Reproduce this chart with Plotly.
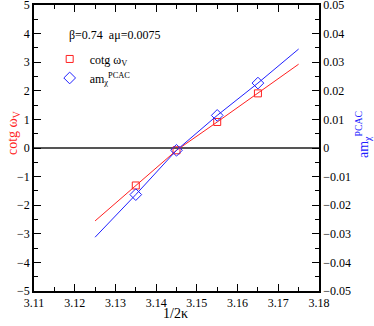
import plotly.graph_objects as go

# measured points
x_pts = [3.135, 3.145, 3.155, 3.165]
cotg_w = [-1.31, -0.08, 0.91, 1.91]
am_pcac = [-0.0163, -0.0008, 0.0114, 0.0227]

# fit curves as drawn (extrapolated to 3.125 / 3.175)
fit_x = [3.125, 3.135, 3.145, 3.155, 3.165, 3.175]
cotg_fit = [-2.55, -1.31, -0.08, 0.91, 1.91, 2.93]
am_fit = [-0.0312, -0.0163, -0.0008, 0.0114, 0.0227, 0.0346]

serif = "Liberation Serif, Times New Roman, serif"
red = "#ff2020"
blue = "#2020ff"

fig = go.Figure()

fig.add_trace(go.Scatter(x=fit_x, y=cotg_fit, mode="lines",
                         line=dict(color=red, width=1), showlegend=False))
fig.add_trace(go.Scatter(x=fit_x, y=am_fit, mode="lines", yaxis="y2",
                         line=dict(color=blue, width=1), showlegend=False))
fig.add_trace(go.Scatter(x=x_pts, y=cotg_w, mode="markers",
                         name="cotg ω<sub>V</sub>",
                         marker=dict(symbol="square-open", size=7, color=red,
                                     line=dict(width=1))))
fig.add_trace(go.Scatter(x=x_pts, y=am_pcac, mode="markers", yaxis="y2",
                         name="am<sub>χ</sub><sup>PCAC</sup>",
                         marker=dict(symbol="diamond-open", size=9, color=blue,
                                     line=dict(width=1))))

tick_common = dict(ticks="inside", ticklen=7, tickcolor="black", tickwidth=1,
                   showline=True, linecolor="black", linewidth=1.5,
                   showgrid=False, automargin=False, ticklabeloverflow="allow")

fig.update_layout(
    width=374, height=326,
    margin=dict(l=34, r=55, t=5, b=35),
    paper_bgcolor="white", plot_bgcolor="white",
    font=dict(family=serif, size=12, color="black"),
    showlegend=True,
    legend=dict(x=0.055, y=0.862, xanchor="left", yanchor="top",
                bgcolor="rgba(0,0,0,0)", font=dict(size=12),
                itemwidth=30, tracegroupgap=0),
    xaxis=dict(range=[3.11, 3.18], dtick=0.01, tickformat=".2f",
               mirror="ticks", zeroline=False,
               minor=dict(dtick=0.005, ticks="inside", ticklen=4, tickcolor="black"),
               **tick_common),
    yaxis=dict(range=[-5, 5], dtick=1,
               zeroline=True, zerolinecolor="#555", zerolinewidth=1.5,
               minor=dict(dtick=0.5, ticks="inside", ticklen=4, tickcolor="black"),
               **tick_common),
    yaxis2=dict(range=[-0.05, 0.05], dtick=0.01, overlaying="y", side="right",
                zeroline=False,
                minor=dict(dtick=0.005, ticks="inside", ticklen=4, tickcolor="black"),
                **tick_common),
    annotations=[
        dict(text="β=0.74  aμ=0.0075", xref="paper", yref="paper",
             x=(67 - 34) / 285, y=(291 - 35) / 286, xanchor="left", yanchor="middle",
             showarrow=False, font=dict(size=12)),
        dict(text="1/2κ", xref="paper", yref="paper",
             x=(175 - 34) / 285, y=(291 - 313) / 286, xanchor="center", yanchor="middle",
             showarrow=False, font=dict(size=14)),
        dict(text="cotg ω<sub>V</sub>", xref="paper", yref="paper",
             x=(13 - 34) / 285, y=(291 - 133) / 286, xanchor="center", yanchor="middle",
             textangle=-90, showarrow=False, font=dict(size=14, color=red)),
        dict(text="am<sub>χ</sub><sup>PCAC</sup>", xref="paper", yref="paper",
             x=(363 - 34) / 285, y=(291 - 135) / 286, xanchor="center", yanchor="middle",
             textangle=-90, showarrow=False, font=dict(size=14, color=blue)),
    ],
)

# page body has a default 8px margin; drop it so the figure sits at the corner
fig.write_html("out.html", config={"displayModeBar": False},
               post_script="document.body.style.margin='0';")
